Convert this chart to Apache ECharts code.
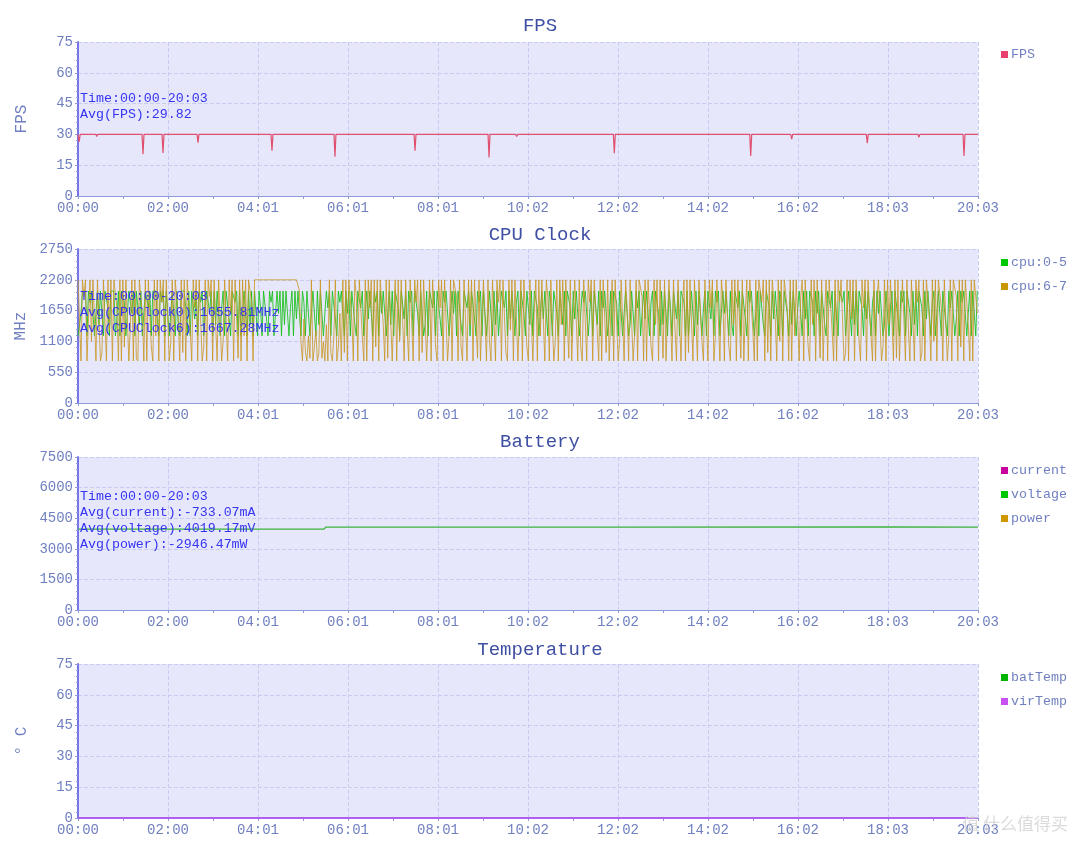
<!DOCTYPE html>
<html>
<head>
<meta charset="utf-8">
<title>FPS / CPU Clock / Battery / Temperature</title>
<script src="https://cdn.jsdelivr.net/npm/echarts@6/dist/echarts.min.js"></script>
<style>
  html, body { margin: 0; padding: 0; background: #fff; }
  #chart { width: 1080px; height: 848px; }
</style>
</head>
<body>
<div id="chart"></div>
<script>
// x axis: seconds from start, labels
const tickLabels = ["00:00", "02:00", "04:01", "06:01", "08:01", "10:02", "12:02", "14:02", "16:02", "18:03", "20:03"];
const totalSeconds = 1203;
const tickStep = 120.3;

// FPS: [second, fps] - flat 30 with short dips
const fpsPoints = [
  [0, 30], [1.5, 26.4], [3, 30], [24, 30], [25, 29], [26, 30],
  [85.6, 30], [86.9, 20.3], [88.2, 30], [112.3, 30], [113.6, 20.9], [114.9, 30],
  [159.1, 30], [160.4, 26], [161.7, 30], [258, 30], [259.3, 22], [260.6, 30],
  [342.2, 30], [343.5, 19.1], [344.8, 30], [449.2, 30], [450.5, 22], [451.8, 30],
  [519.6, 30], [520.9, 29.4], [522.2, 30], [548.1, 30], [549.4, 18.8], [550.7, 30],
  [585.1, 30], [586.4, 29], [587.7, 30], [715.6, 30], [716.9, 20.8], [718.2, 30],
  [897.9, 30], [899.2, 19.5], [900.5, 30], [952.7, 30], [954, 27.7], [955.3, 30],
  [1053.7, 30], [1055, 25.7], [1056.3, 30], [1122.7, 30], [1124, 28.6], [1125.3, 30],
  [1183, 30], [1184.3, 19.5], [1185.6, 30], [1203, 30]
];

// CPU clocks (MHz), one sample every 2 s
const cpuStep = 2;
const cpu05 = [
  1200, 1200, 1600, 2000, 2000, 2000, 1200, 2000, 1800, 2000, 2000, 1200, 1200, 2000, 1400, 2000, 2000, 1200, 2000, 2000,
  1700, 1200, 2000, 2000, 2000, 1200, 1500, 2000, 1200, 2000, 2000, 1800, 1200, 1200, 2000, 2000, 1600, 2000, 1200, 2000,
  2000, 1400, 2000, 1200, 1200, 2000, 2000, 1700, 2000, 1200, 2000, 2000, 2000, 1500, 1200, 2000, 1800, 2000, 1200, 2000,
  2000, 1200, 1600, 2000, 2000, 1200, 2000, 1400, 1200, 2000, 2000, 2000, 1700, 1200, 2000, 1200, 2000, 2000, 1500, 2000,
  1200, 2000, 1800, 2000, 1200, 1200, 2000, 2000, 1600, 2000, 1200, 2000, 1400, 2000, 2000, 1200, 1700, 2000, 1200, 2000,
  2000, 1500, 1200, 2000, 2000, 1800, 2000, 1200, 2000, 1200, 1600, 2000, 2000, 1200, 2000, 1400, 2000, 1200, 2000, 2000,
  1200, 2000, 1700, 1200, 2000, 2000, 1500, 1200, 2000, 1800, 2000, 1200, 1200, 2000, 1600, 2000, 1200, 2000, 1400, 2000,
  2000, 1200, 1700, 2000, 1200, 2000, 1500, 2000, 2000, 1200, 2000, 1800, 1200, 2000, 2000, 1200, 1600, 2000, 2000, 1200,
  2000, 1400, 2000, 2000, 1200, 1200, 2000, 1700, 2000, 1200, 2000, 2000, 1500, 1200, 2000, 1800, 2000, 2000, 1200, 2000,
  1600, 2000, 1200, 2000, 2000, 1400, 1200, 2000, 2000, 1700, 2000, 1200, 1200, 2000, 1500, 2000, 2000, 1200, 2000, 1800,
  2000, 1200, 2000, 1600, 2000, 2000, 1200, 1200, 2000, 1400, 2000, 1200, 2000, 2000, 1700, 1200, 2000, 2000, 1500, 2000,
  1200, 2000, 1800, 2000, 1200, 2000, 2000, 1600, 1200, 2000, 2000, 1200, 1400, 2000, 1200, 2000, 2000, 1700, 2000, 1200,
  2000, 2000, 1500, 1200, 2000, 1800, 2000, 2000, 1200, 1200, 2000, 1600, 2000, 1200, 2000, 2000, 1400, 1200, 2000, 2000,
  1700, 2000, 1200, 2000, 2000, 1500, 1200, 2000, 1800, 2000, 1200, 2000, 2000, 1200, 1600, 2000, 2000, 1200, 2000, 1400,
  2000, 1200, 1200, 2000, 2000, 1700, 2000, 1200, 2000, 1500, 2000, 2000, 1200, 1800, 2000, 1200, 2000, 2000, 1600, 1200,
  2000, 2000, 1400, 2000, 1200, 2000, 2000, 1700, 1200, 1200, 2000, 1500, 2000, 2000, 1200, 2000, 1800, 1200, 2000, 2000,
  1600, 1200, 2000, 2000, 1400, 2000, 1200, 2000, 2000, 1700, 1200, 2000, 1500, 2000, 2000, 1200, 1200, 2000, 1800, 2000,
  2000, 1200, 1600, 2000, 1200, 2000, 2000, 1400, 2000, 1200, 2000, 1700, 2000, 2000, 1200, 1500, 2000, 1200, 2000, 2000,
  1800, 1200, 2000, 2000, 1200, 1600, 2000, 2000, 1200, 1400, 2000, 2000, 1200, 2000, 1700, 2000, 1200, 1200, 2000, 1500,
  2000, 2000, 1200, 1800, 2000, 1200, 2000, 2000, 1600, 1200, 2000, 1400, 2000, 2000, 1200, 2000, 1700, 1200, 2000, 2000,
  1500, 2000, 1200, 2000, 2000, 1800, 1200, 2000, 1200, 1600, 2000, 2000, 1200, 2000, 1400, 2000, 2000, 1200, 1700, 2000,
  1200, 2000, 2000, 1500, 2000, 1200, 2000, 1800, 2000, 1200, 1200, 2000, 1600, 2000, 2000, 1200, 2000, 1400, 1200, 2000,
  2000, 1700, 2000, 1200, 2000, 2000, 1500, 1200, 2000, 1800, 2000, 2000, 1200, 1600, 2000, 1200, 2000, 2000, 1400, 1200,
  2000, 2000, 1700, 1200, 2000, 1500, 2000, 2000, 1200, 2000, 1800, 1200, 2000, 2000, 1600, 1200, 2000, 1400, 2000, 2000,
  1200, 1700, 2000, 2000, 1200, 2000, 1500, 2000, 1200, 2000, 2000, 1800, 1200, 2000, 1600, 2000, 1200, 2000, 2000, 1400,
  1200, 2000, 2000, 1700, 2000, 1200, 2000, 1500, 1200, 2000, 2000, 1800, 2000, 1200, 1600, 2000, 2000, 1200, 2000, 1400,
  2000, 1200, 2000, 2000, 1700, 1200, 2000, 1500, 2000, 2000, 1200, 1800, 2000, 1200, 2000, 1600, 2000, 2000, 1200, 1400,
  2000, 2000, 1200, 1700, 2000, 1200, 2000, 2000, 1500, 1200, 2000, 1800, 2000, 1200, 2000, 2000, 1600, 1200, 2000, 1400,
  2000, 1200, 2000, 2000, 1700, 1200, 2000, 1500, 2000, 2000, 1200, 1800, 2000, 1200, 1600, 2000, 2000, 1200, 2000, 2000,
  1400, 1200, 2000, 1700, 2000, 2000, 1200, 1500, 2000, 1200, 2000, 1800, 2000, 2000, 1200, 1600, 2000, 1200, 2000, 2000,
  1200, 2000
];
const cpu67 = [
  2200, 2200, 750, 2200, 1900, 2200, 750, 750, 2200, 1100, 2200, 2200, 750, 2200, 1500, 750, 900, 2200, 2200, 750,
  2200, 1300, 2200, 750, 2200, 2200, 1700, 750, 2200, 750, 2200, 1000, 2200, 2200, 750, 1400, 2200, 750, 2200, 800,
  750, 2200, 2200, 1600, 750, 2200, 750, 2200, 2200, 1000, 750, 2200, 1200, 2200, 750, 2200, 1800, 2200, 750, 2200,
  2200, 750, 1100, 2200, 750, 2200, 2200, 1500, 750, 2200, 900, 2200, 750, 2200, 2200, 1300, 750, 2200, 1700, 2200,
  750, 2200, 2200, 750, 1000, 2200, 750, 2200, 1900, 2200, 750, 2200, 1400, 750, 2200, 2200, 750, 1100, 2200, 2200,
  750, 2200, 1600, 2200, 750, 2200, 2200, 800, 2200, 750, 2200, 1200, 2200, 750, 2200, 2200, 1800, 750, 2200, 2200,
  2200, 2200, 2200, 2200, 2200, 2200, 2200, 2200, 2200, 2200, 2200, 2200, 2200, 2200, 2200, 2200, 2200, 2200, 2200, 2200,
  2200, 2200, 2200, 2200, 2200, 2200, 2200, 2200, 2000, 1100, 750, 1500, 900, 750, 1200, 800, 2200, 750, 1000, 1300,
  750, 900, 2200, 800, 1100, 750, 1400, 750, 2200, 900, 750, 1200, 2200, 750, 1000, 1600, 750, 2200, 900, 2200,
  750, 2200, 2200, 1500, 750, 2200, 1900, 750, 2200, 2200, 1200, 750, 2200, 750, 2200, 1700, 2200, 750, 2200, 1000,
  2200, 750, 2200, 2200, 1400, 750, 2200, 800, 2200, 2200, 750, 1600, 2200, 750, 2200, 1100, 2200, 2200, 750, 2200,
  1300, 750, 2200, 2200, 750, 2200, 1800, 2200, 750, 2200, 900, 2200, 2200, 750, 1500, 2200, 750, 2200, 2200, 1000,
  750, 2200, 1700, 2200, 750, 2200, 2200, 750, 1200, 2200, 750, 2200, 2200, 1900, 750, 2200, 1000, 750, 2200, 2200,
  750, 2200, 1400, 2200, 750, 2200, 2200, 800, 2200, 750, 1600, 2200, 2200, 750, 2200, 1100, 750, 2200, 2200, 750,
  2200, 1800, 2200, 750, 2200, 2200, 900, 750, 2200, 1300, 2200, 750, 2200, 2200, 750, 1500, 2200, 750, 2200, 2200,
  1000, 750, 2200, 2200, 750, 1700, 2200, 750, 2200, 1200, 2200, 2200, 750, 2200, 1900, 750, 2200, 2200, 750, 1100,
  2200, 750, 2200, 1400, 2200, 750, 2200, 2200, 800, 2200, 750, 1600, 2200, 2200, 750, 2200, 1000, 750, 2200, 2200,
  750, 2200, 1800, 2200, 750, 2200, 2200, 1300, 750, 2200, 750, 2200, 2200, 900, 2200, 750, 1500, 2200, 750, 2200,
  2200, 750, 1100, 2200, 2200, 750, 2200, 1700, 750, 2200, 2200, 750, 1200, 2200, 750, 2200, 2200, 1900, 750, 2200,
  750, 2200, 2200, 1000, 750, 2200, 1400, 2200, 750, 2200, 2200, 800, 2200, 750, 1600, 2200, 2200, 750, 2200, 1300,
  750, 2200, 2200, 750, 1800, 2200, 750, 2200, 900, 2200, 2200, 750, 2200, 1500, 750, 2200, 2200, 1100, 750, 2200,
  2200, 750, 2200, 1700, 2200, 750, 1200, 2200, 2200, 750, 2200, 1900, 750, 2200, 2200, 1000, 750, 2200, 1400, 2200,
  750, 2200, 2200, 800, 2200, 750, 1600, 2200, 750, 2200, 2200, 1300, 750, 2200, 750, 2200, 2200, 1800, 2200, 750,
  2200, 900, 2200, 750, 2200, 2200, 1500, 750, 2200, 1100, 2200, 750, 2200, 2200, 1700, 750, 2200, 750, 2200, 1200,
  2200, 2200, 750, 1900, 2200, 750, 2200, 2200, 1000, 750, 2200, 1400, 2200, 750, 2200, 2200, 800, 2200, 750, 1600,
  2200, 750, 2200, 2200, 1300, 750, 2200, 750, 2200, 1800, 2200, 2200, 750, 900, 2200, 750, 2200, 1500, 2200, 750,
  2200, 2200, 1100, 750, 2200, 1700, 2200, 750, 2200, 2200, 1200, 750, 2200, 750, 1900, 2200, 2200, 750, 1000, 2200,
  750, 2200, 1400, 2200, 2200, 750, 2200, 800, 2200, 750, 1600, 2200, 2200, 750, 2200, 1300, 750, 2200, 2200, 750,
  2200, 1800, 2200, 750, 900, 2200, 750, 2200, 2200, 1500, 750, 2200, 1100, 2200, 750, 2200, 2200, 1700, 750, 2200,
  2200, 750, 1200, 2200, 750, 2200, 2200, 1900, 750, 2200, 1000, 2200, 750, 2200, 2200, 1400, 750, 2200, 750, 2200,
  2200, 1600
];

// Battery (voltage in mV); current and power are negative, off the 0..7500 scale
const voltagePoints = [[0, 3960], [329, 3960], [331, 4060], [694, 4060], [696, 4075], [1084, 4075], [1086, 4060], [1203, 4060]];
const currentPoints = [];
const powerPoints = [];

// Temperature: both read as 0 across the run
const batTempPoints = [[0, 0], [1203, 0]];
const virTempPoints = [[0, 0], [1203, 0]];

const overlayTexts = [
  "Time:00:00-20:03\nAvg(FPS):29.82",
  "Time:00:00-20:03\nAvg(CPUClock0):1655.81MHz\nAvg(CPUClock6):1667.28MHz",
  "Time:00:00-20:03\nAvg(current):-733.07mA\nAvg(voltage):4019.17mV\nAvg(power):-2946.47mW",
];

const FONT = '"Liberation Mono", "DejaVu Sans Mono", monospace';
const LABEL = "#6f7fbf";
const TITLE = "#3f4fa3";

const panels = [
  { title: "FPS", top: 42, height: 154, max: 75, interval: 15, name: "FPS", titleTop: 11, legendTop: 43, textTop: 91 },
  { title: "CPU Clock", top: 249, height: 154, max: 2750, interval: 550, name: "MHz", titleTop: 220, legendTop: 251, textTop: 289 },
  { title: "Battery", top: 457, height: 153, max: 7500, interval: 1500, name: "", titleTop: 427, legendTop: 459, textTop: 489 },
  { title: "Temperature", top: 664, height: 154, max: 75, interval: 15, name: "° C", titleTop: 635, legendTop: 666, textTop: null },
];

const cpuPairs = (arr) => arr.map((v, i) => [i * cpuStep, v]);

function xAxisFor(i) {
  return {
    type: "value",
    gridIndex: i,
    min: 0,
    max: totalSeconds,
    interval: tickStep,
    axisLine: { lineStyle: { color: "#8d9bd9", width: 1 } },
    axisTick: { show: true, length: 3, lineStyle: { color: "#8d9bd9" } },
    minorTick: { show: true, splitNumber: 2, length: 3, lineStyle: { color: "#8d9bd9" } },
    axisLabel: {
      color: LABEL,
      fontFamily: FONT,
      fontSize: 14,
      margin: 5,
      showMinLabel: true,
      showMaxLabel: true,
      formatter: (v) => tickLabels[Math.round(v / tickStep)],
    },
    splitLine: { show: true, lineStyle: { color: "#c9cbf1", type: "dashed" } },
  };
}

function yAxisFor(p, i) {
  return {
    type: "value",
    gridIndex: i,
    min: 0,
    max: p.max,
    interval: p.interval,
    name: p.name,
    nameLocation: "middle",
    nameGap: 48,
    nameTextStyle: { color: LABEL, fontFamily: FONT, fontSize: 16 },
    axisLine: { show: true, lineStyle: { color: "#7474e8", width: 2 } },
    axisTick: { show: true, length: 3, lineStyle: { color: "#8d9bd9" } },
    minorTick: { show: true, splitNumber: 5, length: 2, lineStyle: { color: "#8d9bd9" } },
    axisLabel: { color: LABEL, fontFamily: FONT, fontSize: 14, margin: 5, formatter: (v) => String(v) },
    splitLine: { show: true, lineStyle: { color: "#c9cbf1", type: "dashed" } },
  };
}

function line(name, idx, data, color, width, lineColor, opacity) {
  return {
    name,
    type: "line",
    xAxisIndex: idx,
    yAxisIndex: idx,
    data,
    showSymbol: false,
    symbol: "none",
    itemStyle: { color },
    lineStyle: { color: lineColor || color, width, opacity: opacity == null ? 1 : opacity },
    emphasis: { disabled: true },
  };
}

const chart = echarts.init(document.getElementById("chart"));

const legendData = [
  ["FPS"],
  ["cpu:0-5", "cpu:6-7"],
  ["current", "voltage", "power"],
  ["batTemp", "virTemp"],
];

const graphic = [];
panels.forEach((p, i) => {
  if (p.textTop != null) {
    graphic.push({
      type: "text",
      left: 80,
      top: p.textTop,
      z: 10,
      style: {
        text: overlayTexts[i],
        fill: "#3434f2",
        fontFamily: FONT,
        fontSize: 13.3,
        lineHeight: 15.8,
      },
    });
  }
});
graphic.push({
  type: "text",
  right: 12,
  top: 815,
  z: 10,
  style: {
    text: "值 什么值得买",
    fill: "rgba(210,210,210,0.8)",
    fontFamily: '"Noto Sans CJK SC"',
    fontSize: 17,
  },
});

chart.setOption({
  animation: false,
  backgroundColor: "#ffffff",
  title: panels.map((p) => ({
    text: p.title,
    left: "center",
    top: p.titleTop,
    textStyle: { color: TITLE, fontFamily: FONT, fontSize: 19, fontWeight: "normal" },
  })),
  legend: legendData.map((data, i) => ({
    data,
    orient: "vertical",
    left: 996,
    top: panels[i].legendTop,
    itemWidth: 7,
    itemHeight: 7,
    itemGap: 11,
    icon: "rect",
    selectedMode: false,
    textStyle: { color: LABEL, fontFamily: FONT, fontSize: 13.3, padding: [0, 0, 0, -2] },
  })),
  grid: panels.map((p) => ({
    left: 78,
    right: 102,
    top: p.top,
    height: p.height,
    show: true,
    backgroundColor: "#e7e7fb",
    borderWidth: 0,
    containLabel: false,
    outerBoundsMode: "none",
  })),
  xAxis: panels.map((p, i) => xAxisFor(i)),
  yAxis: panels.map((p, i) => yAxisFor(p, i)),
  graphic,
  series: [
    line("FPS", 0, fpsPoints, "#e8406a", 1.2, "#e0506e"),
    line("cpu:0-5", 1, cpuPairs(cpu05), "#00c800", 1, "#14c014", 0.85),
    line("cpu:6-7", 1, cpuPairs(cpu67), "#c89600", 1, "#c8961e", 0.8),
    line("current", 2, currentPoints, "#c800a0", 1),
    line("voltage", 2, voltagePoints, "#00c800", 1.2, "#3cb43c"),
    line("power", 2, powerPoints, "#d09800", 1),
    line("batTemp", 3, batTempPoints, "#00b400", 2),
    line("virTemp", 3, virTempPoints, "#c850f0", 2, "#b060f0"),
  ],
});
</script>
</body>
</html>
